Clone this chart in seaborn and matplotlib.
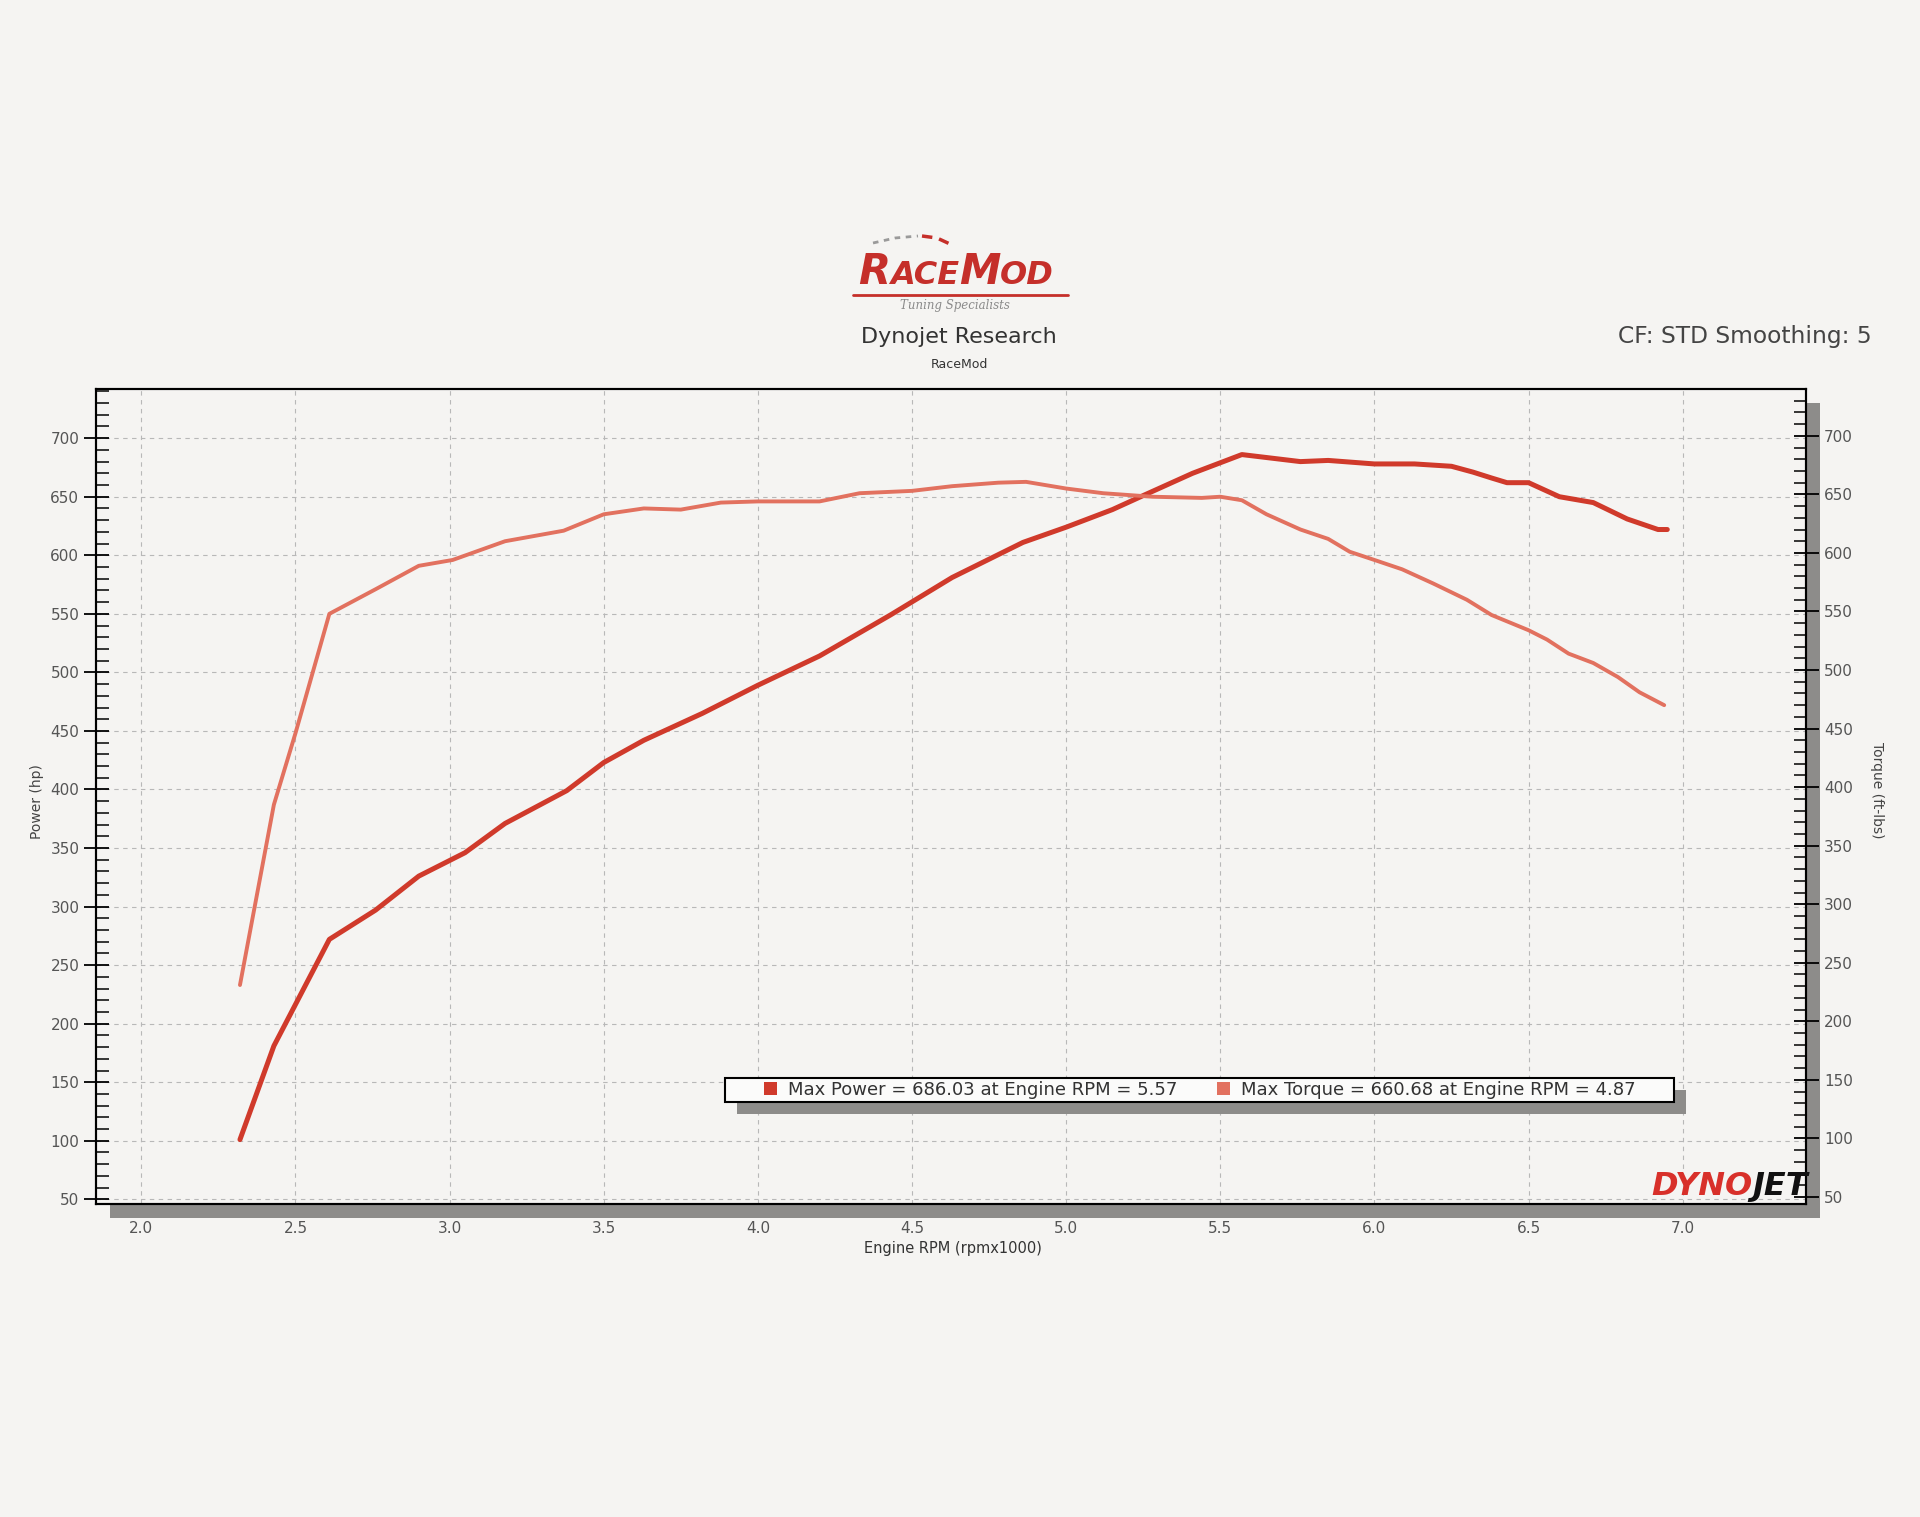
import matplotlib
matplotlib.use("Agg")
import matplotlib.pyplot as plt
import seaborn as sns
from matplotlib.patches import Patch, Rectangle
from matplotlib.lines import Line2D
from matplotlib.offsetbox import TextArea, HPacker, AnnotationBbox
from matplotlib.ticker import MultipleLocator

# values (rpm in thousands)
power_rpm = [2.32, 2.43, 2.61, 2.76, 2.90, 3.05, 3.18, 3.38, 3.50, 3.63, 3.82, 4.00,
             4.20, 4.43, 4.63, 4.86, 5.00, 5.15, 5.25, 5.41, 5.50, 5.57, 5.76, 5.85,
             6.00, 6.13, 6.25, 6.32, 6.38, 6.43, 6.50, 6.60, 6.71, 6.82, 6.92, 6.95]
power_hp = [101, 181, 272, 297, 326, 346, 371, 399, 423, 442, 465, 489,
            514, 549, 581, 611, 624, 639, 651, 670, 679, 686, 680, 681,
            678, 678, 676, 671, 666, 662, 662, 650, 645, 631, 622, 622]

torque_rpm = [2.32, 2.43, 2.50, 2.61, 2.76, 2.90, 3.01, 3.18, 3.37, 3.50, 3.63, 3.75,
              3.88, 4.00, 4.20, 4.33, 4.50, 4.63, 4.78, 4.87, 5.00, 5.12, 5.28, 5.44,
              5.50, 5.57, 5.65, 5.76, 5.85, 5.92, 6.00, 6.09, 6.19, 6.30, 6.38, 6.50,
              6.56, 6.63, 6.71, 6.79, 6.86, 6.94]
torque_ftlb = [231, 385, 446, 548, 569, 589, 594, 610, 619, 633, 638, 637,
               643, 644, 644, 651, 653, 657, 660, 660.7, 655, 651, 648, 647,
               648, 645, 633, 620, 612, 601, 594, 586, 574, 560, 547, 534,
               526, 514, 506, 494, 481, 470]

x_ticks = [2.0, 2.5, 3.0, 3.5, 4.0, 4.5, 5.0, 5.5, 6.0, 6.5, 7.0]
y_ticks = [50, 100, 150, 200, 250, 300, 350, 400, 450, 500, 550, 600, 650, 700]

max_power, max_power_rpm = 686.03, 5.57
max_torque, max_torque_rpm = 660.68, 4.87

power_color = '#d03a2b'
torque_color = '#e2715f'
paper = '#f5f4f2'
shadow = '#8d8c8a'

sns.set_style('white')
plt.rcParams['font.family'] = ['DejaVu Sans']

W, H = 1920, 1517
fig = plt.figure(figsize=(19.2, 15.17), dpi=100, facecolor=paper)


def fx(px):
    return px / W


def fy(py):
    return 1 - py / H


# plot frame in pixels
left, right, top, bottom = 96, 1806, 389, 1204
ax = fig.add_axes([fx(left), fy(bottom), fx(right) - fx(left), fy(top) - fy(bottom)])
ax.set_facecolor(paper)
ax2 = ax.twinx()

# drop shadow behind the frame
fig.add_artist(Rectangle((fx(left + 14), fy(bottom + 14)), fx(right) - fx(left),
                         fy(top) - fy(bottom), transform=fig.transFigure,
                         facecolor=shadow, edgecolor='none', zorder=-1))

# curves
sns.lineplot(x=power_rpm, y=power_hp, ax=ax, color=power_color, linewidth=3.6,
             legend=False, zorder=3)
sns.lineplot(x=torque_rpm, y=torque_ftlb, ax=ax2, color=torque_color, linewidth=2.8,
             legend=False, zorder=3)

ax.set_xlim(1.853, 7.40)
ax.set_ylim(46, 742)
ax2.set_ylim(44, 740)

ax.set_xticks(x_ticks)
ax.set_xticklabels([f'{v:.1f}' for v in x_ticks])
ax.xaxis.set_minor_locator(MultipleLocator(0.1))
ax.set_yticks(y_ticks)
ax.yaxis.set_minor_locator(MultipleLocator(10))
ax2.set_yticks(y_ticks)
ax2.yaxis.set_minor_locator(MultipleLocator(10))

ax.grid(True, which='major', color='#b8b8b8', linestyle=(0, (4, 4)), linewidth=0.8)
ax.set_axisbelow(True)
ax2.grid(False)

label_kw = dict(labelsize=11, labelcolor='#555555', color='black', width=1.3)
ax.tick_params(axis='x', which='major', direction='inout', length=18, pad=3, **label_kw)
ax.tick_params(axis='x', which='minor', direction='in', length=9, width=1.3)
ax.tick_params(axis='y', which='major', direction='inout', length=18, pad=3, **label_kw)
ax.tick_params(axis='y', which='minor', direction='in', length=9, width=1.3)
ax.tick_params(top=False, right=False, which='both')
ax2.tick_params(axis='y', which='major', direction='inout', length=18, pad=4, **label_kw)
ax2.tick_params(axis='y', which='minor', direction='in', length=9, width=1.3)

for a in (ax, ax2):
    for s in a.spines.values():
        s.set_visible(True)
        s.set_color('black')
        s.set_linewidth(1.5)

ax.set_xlabel('')
ax.set_ylabel('')
ax2.set_ylabel('')

fig.text(fx(953), fy(1249), 'Engine RPM (rpmx1000)', ha='center', va='center',
         fontsize=10.5, color='#333333')
fig.text(fx(37), fy(802), 'Power (hp)', ha='center', va='center', rotation=90,
         fontsize=10, color='#444444')
fig.text(fx(1877), fy(790), 'Torque (ft-lbs)', ha='center', va='center', rotation=270,
         fontsize=10, color='#444444')

# legend box with its shadow, then the entries on top
ax2.add_patch(Rectangle((fx(737), fy(1114)), fx(1674) - fx(725), fy(1078) - fy(1102),
                        transform=fig.transFigure, facecolor=shadow, edgecolor='none',
                        zorder=4))
ax2.add_patch(Rectangle((fx(725), fy(1102)), fx(1674) - fx(725), fy(1078) - fy(1102),
                        transform=fig.transFigure, facecolor='#fbfbfa', edgecolor='black',
                        linewidth=1.5, zorder=4.5))
handles = [Patch(facecolor=power_color, edgecolor='none',
                 label=f'Max Power = {max_power:.2f} at Engine RPM = {max_power_rpm:.2f}'),
           Patch(facecolor=torque_color, edgecolor='none',
                 label=f'Max Torque = {max_torque:.2f} at Engine RPM = {max_torque_rpm:.2f}')]
leg = ax2.legend(handles=handles, ncol=2, loc='center', bbox_to_anchor=(0.6455, 0.14),
                 frameon=False, fontsize=13, handlelength=0.7, handleheight=0.7,
                 handletextpad=0.6, columnspacing=2.2, borderpad=0.25)
leg.set_zorder(5)
for t in leg.get_texts():
    t.set_color('#333333')

# header texts
fig.text(fx(959), fy(337), 'Dynojet Research', ha='center', va='center',
         fontsize=16, color='#333333')
fig.text(fx(959), fy(365), 'RaceMod', ha='center', va='center', fontsize=9,
         color='#333333')
fig.text(fx(1872), fy(337), 'CF: STD Smoothing: 5', ha='right', va='center',
         fontsize=16.8, color='#444444')

# RaceMod logo
logo_red = '#c52f2a'
big = dict(color=logo_red, fontsize=30, fontweight='heavy', fontstyle='italic')
small = dict(color=logo_red, fontsize=23, fontweight='heavy', fontstyle='italic')
logo = HPacker(children=[TextArea('R', textprops=big), TextArea('ACE', textprops=small),
                         TextArea('M', textprops=big), TextArea('OD', textprops=small)],
               align='baseline', pad=0, sep=0)
fig.add_artist(AnnotationBbox(logo, (fx(956), fy(272)), xycoords='figure fraction',
                              frameon=False, box_alignment=(0.5, 0.5)))
fig.add_artist(Line2D([fx(853), fx(1068)], [fy(295), fy(295)], transform=fig.transFigure,
                      color=logo_red, linewidth=2))
fig.text(fx(955), fy(306), 'Tuning Specialists', ha='center', va='center', fontsize=8.5,
         fontstyle='italic', family='DejaVu Serif', color='#8a8a8a')
fig.add_artist(Line2D([fx(873), fx(895), fx(918)], [fy(243), fy(238), fy(236)],
                      transform=fig.transFigure, color='#9a9a9a', linewidth=2,
                      linestyle=(0, (2, 2))))
fig.add_artist(Line2D([fx(922), fx(937), fx(950)], [fy(236), fy(238), fy(244)],
                      transform=fig.transFigure, color=logo_red, linewidth=2.5,
                      linestyle=(0, (3, 2))))

# Dynojet logo in the corner
dj_red = dict(color='#d8302a', fontsize=23, fontweight='heavy', fontstyle='italic')
dj_blk = dict(color='#111111', fontsize=23, fontweight='heavy', fontstyle='italic')
dyno = HPacker(children=[TextArea('DYNO', textprops=dj_red), TextArea('JET', textprops=dj_blk)],
               align='baseline', pad=0, sep=0)
ax2.add_artist(AnnotationBbox(dyno, (fx(1808), fy(1202)), xycoords='figure fraction',
                              frameon=False, box_alignment=(1, 0), zorder=5))

fig.savefig('out.png', dpi=100, facecolor=paper)
